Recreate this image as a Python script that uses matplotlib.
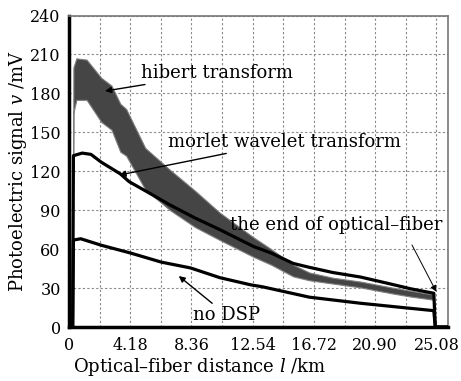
import numpy as np
import matplotlib.pyplot as plt

plt.rcParams['font.family'] = ['DejaVu Serif']
plt.rcParams['mathtext.fontset'] = 'dejavuserif'

# distances (km) and signal (mV)
hib_x = [0.25, 0.3, 0.5, 1.2, 2.2, 2.9, 3.5, 3.9, 5.2, 6.9, 8.6, 10.3, 12.6,
         13.8, 15.3, 16.4, 18.0, 19.9, 22.0, 23.3, 24.9, 25.0, 25.85]
hib_hi = [0, 200, 207, 206, 192, 186, 172, 168, 138, 121, 105, 88, 69,
          60, 48, 42, 38, 35, 30.5, 28, 25, 0, 0]
hib_lo = [0, 165, 175, 175, 158, 152, 135, 132, 106, 90, 77, 67, 54,
          48, 39, 36, 33.5, 30.5, 26, 23.5, 21, 0, 0]

morlet_x = [0.25, 0.3, 0.9, 1.5, 2.2, 3.5, 4.1, 5.2, 6.9, 8.6, 10.3, 12.6,
            13.8, 15.3, 16.4, 18.0, 19.9, 22.0, 23.3, 24.9, 25.0, 25.85]
morlet_y = [0, 132, 134, 133, 127, 118, 112, 105, 94, 84, 75, 62,
            57, 49, 46, 42, 38.5, 33, 29.5, 26, 0, 0]

nodsp_x = [0.25, 0.3, 0.8, 2.2, 4.2, 6.3, 8.3, 10.3, 12.4, 13.2, 16.4,
           19.9, 23.3, 24.9, 25.0, 25.85]
nodsp_y = [0, 67, 68, 63, 57, 50, 45.5, 38, 32.5, 31, 23,
           18.3, 14.4, 12.6, 0, 0]

xticks = [0, 4.18, 8.36, 12.54, 16.72, 20.90, 25.08]
xticklabels = ["0", "4.18", "8.36", "12.54", "16.72", "20.90", "25.08"]
yticks = [0, 30, 60, 90, 120, 150, 180, 210, 240]

fig = plt.figure(figsize=(4.61, 3.81), dpi=100)
ax = fig.add_axes([0.1497, 0.1417, 0.8215, 0.8176])

# hibert transform: noisy grey band
ax.fill_between(hib_x, hib_lo, hib_hi, color="#454545", lw=0.8,
                edgecolor="#808080", zorder=2)
ax.plot(morlet_x, morlet_y, color="black", lw=2.3, zorder=3)
ax.plot(nodsp_x, nodsp_y, color="black", lw=2.3, zorder=3)

ax.set_xlim(0, 25.85)
ax.set_ylim(0, 240)
ax.set_xticks(xticks)
ax.set_xticklabels(xticklabels)
ax.set_xticks([2.09 * k for k in range(1, 12, 2)], minor=True)
ax.set_yticks(yticks)
ax.tick_params(which="both", length=0, labelsize=11.5)
ax.tick_params(axis="x", pad=7)
ax.tick_params(axis="y", pad=6)
ax.grid(True, which="both", color="#888888", lw=0.8, ls=(0, (2, 2)))
ax.set_axisbelow(True)

for s in ["left", "bottom"]:
    ax.spines[s].set_linewidth(2.5)
    ax.spines[s].set_color("black")
for s in ["top", "right"]:
    ax.spines[s].set_linewidth(1.2)
    ax.spines[s].set_color("#777777")

ax.set_xlabel(r"Optical–fiber distance $\it{l}$ /km", fontsize=13)
ax.xaxis.set_label_coords(0.346, -0.093)
ax.set_ylabel(r"Photoelectric signal $\it{v}$ /mV", fontsize=13, labelpad=1)

arrow = dict(arrowstyle="-|>", color="black", lw=1.0, mutation_scale=9,
             shrinkA=0, shrinkB=0)
ax.annotate("hibert transform", xy=(2.46, 181.8), xytext=(4.92, 195.9),
            fontsize=13, ha="left", va="center", arrowprops=arrow)
ax.annotate("morlet wavelet transform", xy=(3.44, 117.1), xytext=(6.76, 142.8),
            fontsize=13, ha="left", va="center", arrowprops=arrow)
ax.annotate("", xy=(25.07, 27.2), xytext=(23.41, 63.2),
            arrowprops=dict(arrow, lw=0.7))
ax.text(11.0, 78.6, "the end of optical–fiber", fontsize=13, ha="left", va="center")
ax.annotate("no DSP", xy=(7.49, 39.3), xytext=(8.47, 9.2),
            fontsize=13, ha="left", va="center", arrowprops=arrow)

fig.savefig("out.png", dpi=100)
